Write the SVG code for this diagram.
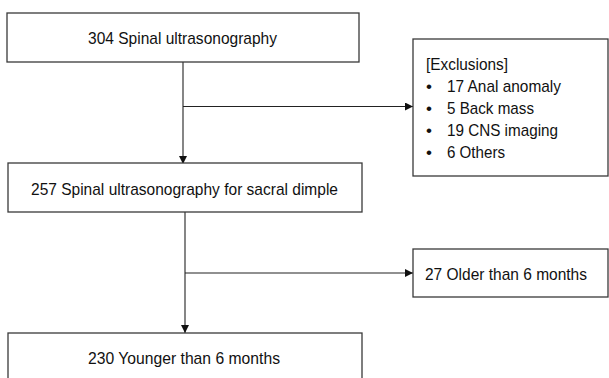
<svg xmlns="http://www.w3.org/2000/svg" width="609" height="378" viewBox="0 0 609 378">
<style>
.box{fill:#fff;stroke:#3a3a3a;stroke-width:1.3}
.t{font-family:"Liberation Sans",Arial,sans-serif;font-size:17px;fill:#111}
.c{text-anchor:middle}
.ln{fill:none;stroke:#222;stroke-width:1.1}
</style>
<defs>
<marker id="ah" viewBox="0 0 10 10" refX="10" refY="5" markerWidth="8" markerHeight="8" markerUnits="userSpaceOnUse" orient="auto">
<path d="M0,0 L10,5 L0,10 z" fill="#111"/>
</marker>
</defs>
<rect width="609" height="378" fill="#fff"/>
<g id="connectors">
<path class="ln" d="M183,62 V164" marker-end="url(#ah)"/>
<path class="ln" d="M183,106.5 H413" marker-end="url(#ah)"/>
<path class="ln" d="M185,212 V333" marker-end="url(#ah)"/>
<path class="ln" d="M185,273 H413" marker-end="url(#ah)"/>
</g>
<g id="n1">
<rect class="box" x="7" y="13" width="352" height="49"/>
<text class="t" x="88" y="44" textLength="189" lengthAdjust="spacingAndGlyphs">304 Spinal ultrasonography</text>
</g>
<g id="n2">
<rect class="box" x="413" y="39" width="195" height="137"/>
<text class="t" x="426" y="70" textLength="82" lengthAdjust="spacingAndGlyphs">[Exclusions]</text>
<text class="t" x="426" y="92">•</text><text class="t" x="447" y="92" textLength="114" lengthAdjust="spacingAndGlyphs">17 Anal anomaly</text>
<text class="t" x="426" y="114">•</text><text class="t" x="447" y="114" textLength="87" lengthAdjust="spacingAndGlyphs">5 Back mass</text>
<text class="t" x="426" y="136">•</text><text class="t" x="447" y="136" textLength="111" lengthAdjust="spacingAndGlyphs">19 CNS imaging</text>
<text class="t" x="426" y="158">•</text><text class="t" x="447" y="158" textLength="58" lengthAdjust="spacingAndGlyphs">6 Others</text>
</g>
<g id="n3">
<rect class="box" x="8" y="163" width="354" height="49"/>
<text class="t" x="31" y="195" textLength="307" lengthAdjust="spacingAndGlyphs">257 Spinal ultrasonography for sacral dimple</text>
</g>
<g id="n4">
<rect class="box" x="413" y="249" width="195" height="48"/>
<text class="t" x="425" y="280" textLength="162" lengthAdjust="spacingAndGlyphs">27 Older than 6 months</text>
</g>
<g id="n5">
<rect class="box" x="8" y="333" width="354" height="60"/>
<text class="t" x="88" y="364" textLength="192" lengthAdjust="spacingAndGlyphs">230 Younger than 6 months</text>
</g>
</svg>
